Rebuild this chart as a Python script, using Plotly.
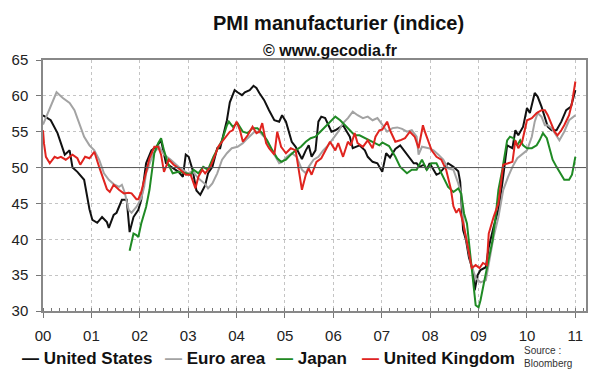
import plotly.graph_objects as go

# ---------------- data ----------------
years = list(range(2000, 2012))
year_labels = ["00", "01", "02", "03", "04", "05", "06", "07", "08", "09", "10", "11"]
series_names = ["United States", "Euro area", "Japan", "United Kingdom"]

us_t = [0.00, 0.16, 0.30, 0.45, 0.55, 0.61, 0.71, 0.85, 0.96, 1.02, 1.12, 1.22, 1.32, 1.36, 1.46, 1.52,
        1.63, 1.73, 1.79, 1.87, 1.97, 2.03, 2.13, 2.24, 2.34, 2.44, 2.54, 2.68, 2.80, 2.89, 2.95, 3.01,
        3.09, 3.17, 3.25, 3.35, 3.41, 3.50, 3.60, 3.66, 3.72, 3.80, 3.86, 3.96, 4.02, 4.11, 4.17, 4.27,
        4.35, 4.41, 4.47, 4.57, 4.67, 4.78, 4.88, 4.94, 5.02, 5.08, 5.14, 5.22, 5.28, 5.35, 5.43, 5.49,
        5.55, 5.63, 5.69, 5.75, 5.83, 5.89, 5.96, 6.04, 6.10, 6.20, 6.26, 6.34, 6.40, 6.46, 6.54, 6.65,
        6.71, 6.81, 6.91, 7.01, 7.09, 7.17, 7.28, 7.38, 7.46, 7.56, 7.66, 7.72, 7.78, 7.87, 7.93, 7.99,
        8.07, 8.13, 8.19, 8.29, 8.37, 8.48, 8.58, 8.62, 8.68, 8.74, 8.80, 8.88, 8.92, 8.98, 9.04, 9.15,
        9.21, 9.31, 9.41, 9.49, 9.53, 9.59, 9.70, 9.76, 9.82, 9.92, 10.00, 10.06, 10.16, 10.22, 10.30,
        10.37, 10.43, 10.51, 10.61, 10.71, 10.81, 10.91, 11.00]
us_v = [57.3, 56.6, 54.8, 51.8, 52.4, 50.0, 49.4, 48.3, 44.2, 42.7, 42.3, 43.1, 42.4, 41.6, 43.4, 43.7,
        45.5, 45.5, 41.0, 43.1, 44.1, 45.5, 50.6, 52.4, 52.9, 53.8, 50.6, 50.0, 49.4, 48.7, 51.8, 51.5,
        49.7, 46.8, 46.2, 47.5, 49.2, 50.1, 52.7, 52.7, 54.3, 56.6, 59.1, 60.8, 60.5, 60.1, 60.5, 60.8,
        61.4, 61.1, 60.4, 59.4, 58.0, 56.6, 56.4, 57.3, 56.4, 54.8, 53.6, 52.9, 52.2, 51.2, 52.4, 53.1,
        51.5, 52.4, 56.4, 57.1, 56.9, 55.9, 55.0, 55.2, 55.5, 55.9, 55.2, 54.3, 52.7, 52.9, 53.1, 52.4,
        51.5, 50.8, 50.6, 49.4, 52.0, 51.4, 52.6, 53.1, 52.4, 51.5, 50.6, 50.6, 50.1, 50.4, 49.7, 50.6,
        49.7, 49.0, 49.2, 49.9, 50.6, 50.1, 49.5, 48.0, 41.3, 39.9, 37.5, 35.7, 32.9, 35.0, 35.7, 36.1,
        38.9, 41.7, 44.1, 47.8, 49.7, 53.1, 52.7, 55.2, 54.5, 55.7, 58.3, 57.6, 60.4, 59.9, 58.5,
        56.9, 55.7, 55.2, 55.2, 56.4, 58.0, 58.5, 60.8]

eu_t = [0.00, 0.28, 0.41, 0.55, 0.65, 0.75, 0.85, 0.96, 1.06, 1.16, 1.26, 1.36, 1.46, 1.57, 1.63, 1.69,
        1.77, 1.83, 1.93, 2.03, 2.09, 2.13, 2.28, 2.40, 2.50, 2.64, 2.80, 2.99, 3.09, 3.21, 3.35, 3.41,
        3.50, 3.60, 3.70, 3.80, 3.90, 4.02, 4.13, 4.23, 4.37, 4.47, 4.57, 4.67, 4.78, 4.88, 4.94, 5.04,
        5.14, 5.24, 5.35, 5.43, 5.49, 5.59, 5.69, 5.79, 5.89, 6.00, 6.10, 6.20, 6.30, 6.40, 6.50, 6.61,
        6.71, 6.81, 6.91, 7.01, 7.11, 7.22, 7.32, 7.42, 7.52, 7.62, 7.72, 7.76, 7.83, 7.97, 8.07, 8.17,
        8.27, 8.37, 8.48, 8.58, 8.64, 8.70, 8.78, 8.84, 8.94, 9.04, 9.15, 9.21, 9.31, 9.41, 9.51, 9.61,
        9.70, 9.80, 9.90, 10.00, 10.10, 10.16, 10.22, 10.30, 10.37, 10.43, 10.51, 10.57, 10.67, 10.77,
        10.87, 11.00]
eu_v = [56.0, 60.5, 59.7, 59.0, 58.0, 56.2, 54.3, 53.1, 52.4, 51.1, 49.2, 48.3, 47.7, 47.3, 47.6, 46.5,
        44.1, 43.7, 44.5, 45.7, 47.3, 49.2, 52.0, 52.9, 51.8, 51.1, 50.1, 49.2, 49.5, 48.5, 47.7, 47.1,
        47.8, 49.2, 51.1, 52.0, 52.7, 52.9, 53.4, 54.1, 55.0, 55.0, 54.3, 53.1, 51.8, 50.6, 50.8, 51.5,
        52.0, 51.5, 49.7, 49.2, 50.1, 51.1, 51.5, 52.4, 53.1, 54.1, 55.0, 56.2, 56.9, 57.8, 57.3, 56.9,
        57.1, 56.6, 56.9, 56.0, 55.0, 55.5, 55.6, 55.4, 55.0, 55.2, 54.3, 51.8, 52.9, 52.7, 52.4, 51.8,
        51.1, 49.9, 49.7, 47.8, 46.4, 41.7, 38.5, 36.7, 34.6, 34.0, 34.3, 36.7, 40.3, 43.1, 46.9, 48.7,
        50.1, 51.3, 51.8, 52.4, 54.3, 56.4, 57.6, 57.1, 55.9, 55.9, 55.5, 54.8, 53.8, 55.0,
        56.6, 57.3]

jp_t = [1.79, 1.87, 1.93, 1.97, 2.03, 2.09, 2.13, 2.20, 2.24, 2.30, 2.38, 2.44, 2.50, 2.58, 2.68, 2.80,
        2.95, 3.05, 3.11, 3.21, 3.31, 3.41, 3.52, 3.62, 3.70, 3.80, 3.84, 3.92, 4.02, 4.13, 4.23, 4.33,
        4.43, 4.53, 4.63, 4.74, 4.84, 4.92, 5.02, 5.12, 5.22, 5.33, 5.43, 5.53, 5.63, 5.73, 5.83, 5.93,
        6.04, 6.14, 6.24, 6.34, 6.44, 6.54, 6.65, 6.75, 6.85, 6.95, 7.01, 7.15, 7.28, 7.38, 7.52, 7.62,
        7.72, 7.83, 7.93, 8.03, 8.13, 8.23, 8.37, 8.48, 8.58, 8.64, 8.70, 8.76, 8.80, 8.86, 8.90, 8.94,
        9.00, 9.04, 9.11, 9.19, 9.29, 9.35, 9.41, 9.49, 9.55, 9.59, 9.65, 9.72, 9.80, 9.86, 9.92, 10.00,
        10.10, 10.20, 10.26, 10.33, 10.41, 10.47, 10.53, 10.61, 10.71, 10.77, 10.87, 10.93, 11.00]
jp_v = [38.4, 40.8, 40.6, 40.3, 42.2, 43.6, 44.5, 46.9, 48.8, 52.0, 53.4, 54.1, 52.4, 50.6, 49.2, 49.4,
        49.2, 49.0, 49.7, 49.2, 50.1, 49.7, 51.5, 52.9, 53.8, 55.9, 56.4, 55.7, 56.2, 55.0, 54.8, 55.5,
        55.5, 54.8, 53.8, 52.4, 51.3, 50.8, 51.1, 51.8, 52.4, 52.9, 53.6, 54.1, 54.3, 55.0, 55.7, 56.4,
        57.1, 56.6, 55.9, 55.2, 54.5, 54.5, 54.1, 53.8, 53.4, 53.1, 53.5, 53.0, 51.5, 50.1, 49.2, 49.7,
        49.7, 51.1, 49.7, 50.6, 50.6, 49.2, 47.3, 46.6, 47.1, 46.4, 43.6, 42.2, 39.5, 35.7, 32.9, 30.8,
        30.5, 31.5, 33.9, 36.7, 39.9, 43.1, 46.9, 49.7, 52.0, 53.8, 54.3, 54.1, 53.1, 53.8, 53.1, 52.7,
        52.7, 53.1, 53.8, 54.8, 54.1, 52.7, 51.1, 50.1, 49.0, 48.3, 48.3, 49.0, 51.5]

uk_t = [0.00, 0.02, 0.06, 0.14, 0.24, 0.30, 0.37, 0.47, 0.61, 0.71, 0.77, 0.87, 0.96, 1.06, 1.16, 1.26,
        1.32, 1.38, 1.46, 1.57, 1.67, 1.77, 1.83, 1.93, 1.97, 2.03, 2.09, 2.13, 2.20, 2.30, 2.38, 2.44,
        2.50, 2.60, 2.70, 2.80, 2.95, 3.05, 3.15, 3.21, 3.29, 3.35, 3.46, 3.56, 3.62, 3.70, 3.76, 3.86,
        3.92, 4.00, 4.07, 4.13, 4.23, 4.33, 4.41, 4.47, 4.53, 4.61, 4.67, 4.78, 4.84, 4.92, 5.02, 5.12,
        5.22, 5.28, 5.35, 5.43, 5.49, 5.55, 5.65, 5.75, 5.83, 5.93, 6.04, 6.10, 6.20, 6.30, 6.36, 6.44,
        6.50, 6.61, 6.71, 6.81, 6.87, 6.95, 7.01, 7.11, 7.17, 7.28, 7.38, 7.48, 7.58, 7.68, 7.76, 7.85,
        7.89, 7.97, 8.03, 8.13, 8.23, 8.33, 8.39, 8.43, 8.48, 8.54, 8.60, 8.68, 8.74, 8.80, 8.86, 8.94,
        9.02, 9.09, 9.17, 9.21, 9.31, 9.41, 9.51, 9.61, 9.70, 9.76, 9.82, 9.90, 10.00, 10.10, 10.20,
        10.30, 10.37, 10.43, 10.51, 10.57, 10.63, 10.71, 10.77, 10.87, 10.93, 11.00]
uk_v = [55.2, 53.4, 51.5, 50.6, 51.5, 51.3, 51.5, 51.1, 51.8, 51.3, 50.4, 51.5, 51.3, 52.2, 50.1, 48.0,
        47.0, 46.6, 47.6, 46.9, 46.4, 46.5, 46.4, 45.6, 45.6, 46.6, 48.3, 49.2, 51.3, 52.9, 52.9, 51.8,
        49.4, 51.1, 50.4, 49.9, 49.0, 49.0, 47.1, 48.7, 49.7, 49.2, 50.1, 51.8, 52.9, 53.6, 54.1, 55.0,
        55.2, 56.4, 55.2, 53.6, 54.5, 55.7, 54.8, 55.0, 56.2, 53.4, 52.7, 51.8, 55.0, 52.9, 52.0, 52.7,
        52.4, 49.7, 46.9, 49.0, 49.9, 49.0, 50.8, 51.3, 52.4, 53.6, 52.4, 53.4, 51.5, 53.6, 53.1, 54.8,
        53.4, 52.9, 53.8, 52.7, 54.3, 55.2, 55.3, 56.4, 55.2, 53.6, 53.8, 54.1, 55.0, 54.3, 52.7, 55.9,
        55.0, 53.6, 52.4, 51.5, 51.1, 49.7, 48.0, 46.9, 44.6, 43.7, 44.3, 42.3, 40.3, 38.1, 36.0, 36.4,
        36.0, 36.7, 36.4, 40.8, 43.1, 45.0, 50.4, 50.6, 50.8, 53.8, 52.7, 53.6, 56.6, 56.9, 57.6,
        58.0, 58.0, 57.3, 55.9, 55.0, 54.5, 55.2, 55.9, 57.3, 59.0, 62.0]

colors = ["#111111", "#a3a3a3", "#1f8a24", "#e0241f"]

# ---------------- figure ----------------
W, H = 600, 372
L, R, T, B = 35, 13, 60, 61
PW, PH = W - L - R, H - T - B


def px_x(x):
    return (x - L) / PW


def px_y(y):
    return (H - B - y) / PH


fig = go.Figure()
for name, tt, vv, col in zip(series_names, [us_t, eu_t, jp_t, uk_t], [us_v, eu_v, jp_v, uk_v], colors):
    fig.add_trace(go.Scatter(x=[2000 + t for t in tt], y=vv, mode="lines", name=name,
                             line=dict(color=col, width=2), showlegend=False))

FONT = "Liberation Sans, Arial, sans-serif"

fig.update_layout(
    width=W, height=H,
    margin=dict(l=L, r=R, t=T, b=B, pad=0),
    paper_bgcolor="white", plot_bgcolor="white",
    font=dict(family=FONT, color="#222"),
    showlegend=False,
    xaxis=dict(range=[2000, 2000 + PW / 49.2], tickvals=years, ticktext=year_labels,
               ticks="outside", ticklen=5, tickcolor="#777", tickwidth=1,
               minor=dict(dtick=1 / 6, ticks="inside", ticklen=3, tickcolor="#777", showgrid=False),
               showgrid=True, gridcolor="#c4c4c4", griddash="dot", gridwidth=1,
               showline=True, linecolor="#888", linewidth=1.5, mirror=True,
               zeroline=False, tickfont=dict(size=15, color="#222"), ticklabelstandoff=5),
    yaxis=dict(range=[30, 65], tickvals=[30, 35, 40, 45, 50, 55, 60, 65],
               ticks="outside", ticklen=5, tickcolor="#777",
               showgrid=True, gridcolor="#c4c4c4", griddash="dot", gridwidth=1,
               showline=True, linecolor="#888", linewidth=1.5, mirror=True,
               zeroline=False, tickfont=dict(size=15, color="#222"), ticklabelstandoff=5),
)

# reference line at 50
fig.add_shape(type="line", xref="paper", x0=0, x1=1, yref="y", y0=50, y1=50,
              line=dict(color="#555", width=1), layer="above")

# titles
fig.add_annotation(text="<b>PMI manufacturier (indice)</b>", xref="paper", yref="paper",
                   x=px_x(335), y=px_y(23), xanchor="center", yanchor="middle",
                   showarrow=False, font=dict(size=20, color="#111", family=FONT))
fig.add_annotation(text="<b>© www.gecodia.fr</b>", xref="paper", yref="paper",
                   x=px_x(327), y=px_y(50.5), xanchor="center", yanchor="middle",
                   showarrow=False, font=dict(size=16, color="#111", family=FONT))

# legend (dash + name)
leg_x = [12, 157, 270, 357]
for name, col, lx in zip(series_names, colors, leg_x):
    fig.add_annotation(text=f"<b><span style='color:{col}'>—</span> {name}</b>",
                       xref="paper", yref="paper", x=px_x(lx), y=px_y(358),
                       xanchor="left", yanchor="middle", showarrow=False,
                       font=dict(size=17, color="#111", family=FONT))

fig.add_annotation(text="Source :<br>Bloomberg", xref="paper", yref="paper",
                   x=px_x(522), y=px_y(356.5), xanchor="left", yanchor="middle", align="left",
                   showarrow=False, font=dict(size=10, color="#333", family=FONT))

fig.write_html("out.html", config={"displayModeBar": False},
               post_script="document.body.style.margin='0';document.body.style.overflow='hidden';")
